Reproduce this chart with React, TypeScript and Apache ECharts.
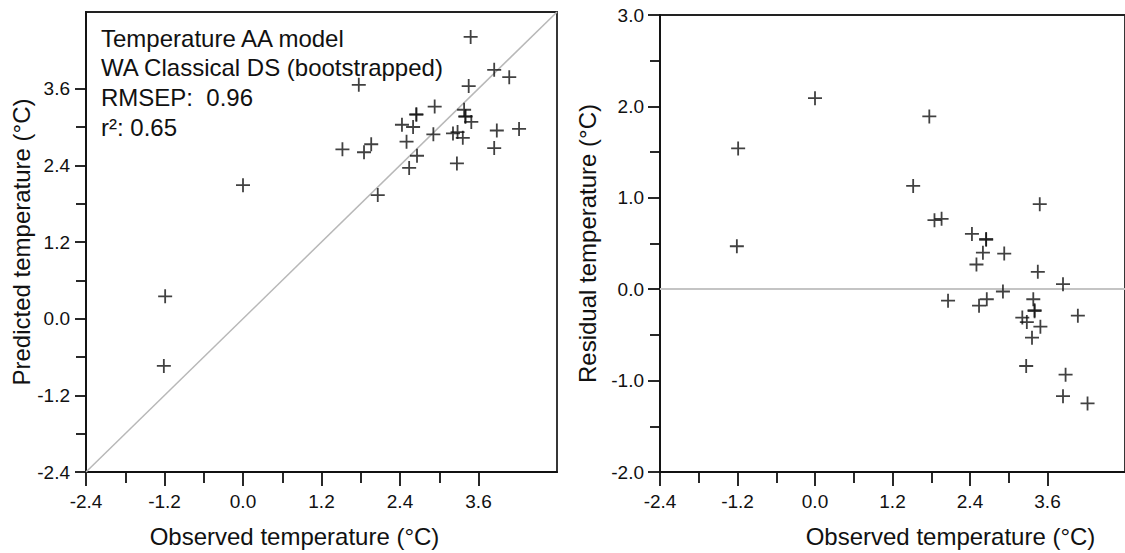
import React, { useEffect, useRef } from "react";
import * as echarts from "echarts";

// Observed temperature (°C) for each sample
const observed = [
  -1.19, -1.21, 0.0, 1.77, 1.52, 1.85, 1.96, 3.48, 2.43, 2.65, 2.65, 2.6, 2.93, 2.5, 3.45, 3.84,
  2.91, 2.06, 2.66, 2.54, 3.38, 3.4, 3.4, 3.21, 3.28, 3.49, 4.07, 3.36, 3.27, 3.88, 3.84, 4.22,
];
// Predicted temperature (°C)
const predicted = [
  0.35, -0.74, 2.09, 3.66, 2.65, 2.605, 2.73, 4.41, 3.035, 3.2, 3.19, 3.0, 3.32, 2.77, 3.64, 3.895,
  2.885, 1.935, 2.55, 2.36, 3.27, 3.17, 3.16, 2.9, 2.92, 3.08, 3.78, 2.83, 2.43, 2.945, 2.67, 2.97,
];
// Residual temperature (°C)
const residual = [
  1.54, 0.47, 2.09, 1.89, 1.13, 0.755, 0.77, 0.93, 0.605, 0.55, 0.54, 0.4, 0.39, 0.27, 0.19, 0.055,
  -0.025, -0.125, -0.11, -0.18, -0.11, -0.23, -0.24, -0.31, -0.36, -0.41, -0.29, -0.53, -0.84, -0.935,
  -1.17, -1.25,
];

const tempExtent = [-2.4, 4.8];
const majorTicks = [-2.4, -1.2, 0.0, 1.2, 2.4, 3.6];
const minorTicks = [-1.8, -0.6, 0.6, 1.8, 3.0];
const residualExtent = [-2, 3];
const oneToOneLine = [
  [-2.4, -2.4],
  [4.8, 4.8],
];
const annotationLines = [
  "Temperature AA model",
  "WA Classical DS (bootstrapped)",
  "RMSEP:  0.96",
  "r²: 0.65",
];

const FONT = "'Liberation Sans', Arial, Helvetica, sans-serif";
const INK = "#111";
const PLUS = "path://M6.1,0h1.8v6.1h6.1v1.8h-6.1v6.1h-1.8v-6.1h-6.1v-1.8h6.1z";
const fmt = (v: number) => (Math.abs(v) < 1e-9 ? 0 : v).toFixed(1);

function majorX(gridIndex: number, namePadding: number[]) {
  return {
    type: "value",
    gridIndex,
    position: "bottom",
    min: tempExtent[0],
    max: tempExtent[1],
    interval: 1.2,
    name: "Observed temperature (°C)",
    nameLocation: "middle",
    nameGap: 52,
    nameTextStyle: { fontSize: 24, color: INK, fontFamily: FONT, padding: namePadding },
    axisLine: { show: true, onZero: false, lineStyle: { color: INK, width: 1.8 } },
    axisTick: { show: true, customValues: majorTicks, length: 14, lineStyle: { color: INK, width: 1.8 } },
    axisLabel: { customValues: majorTicks, formatter: fmt, fontSize: 19, color: INK, margin: 20, fontFamily: FONT },
    splitLine: { show: false },
  };
}
function minorX(gridIndex: number) {
  return {
    type: "value",
    gridIndex,
    position: "bottom",
    min: tempExtent[0],
    max: tempExtent[1],
    interval: 1.2,
    axisLine: { show: false, onZero: false },
    axisTick: { show: true, customValues: minorTicks, length: 11, lineStyle: { color: INK, width: 1.8 } },
    axisLabel: { show: false },
    splitLine: { show: false },
  };
}

export default function App() {
  const ref = useRef<HTMLDivElement>(null);
  useEffect(() => {
    if (!ref.current) return;
    const chart = echarts.init(ref.current, undefined, { renderer: "svg" });
    const plusStyle = { color: INK };
    chart.setOption({
      animation: false,
      backgroundColor: "#fff",
      textStyle: { fontFamily: FONT },
      grid: [
        { left: 86, top: 12, width: 471, height: 466, show: true, borderColor: "#222", borderWidth: 1.8 },
        { left: 660, top: 15, width: 471, height: 464, show: true, borderColor: "#222", borderWidth: 1.8 },
      ],
      xAxis: [majorX(0, [0, 54, 0, 0]), minorX(0), majorX(1, [0, 0, 0, 116]), minorX(1)],
      yAxis: [
        {
          type: "value",
          gridIndex: 0,
          position: "left",
          min: tempExtent[0],
          max: tempExtent[1],
          interval: 1.2,
          name: "Predicted temperature (°C)",
          nameLocation: "middle",
          nameGap: 52,
          nameTextStyle: { fontSize: 24, color: INK, fontFamily: FONT },
          axisLine: { show: true, onZero: false, lineStyle: { color: INK, width: 1.8 } },
          axisTick: { show: true, customValues: majorTicks, length: 11, lineStyle: { color: INK, width: 1.8 } },
          axisLabel: { customValues: majorTicks, formatter: fmt, fontSize: 19, color: INK, margin: 16, fontFamily: FONT },
          splitLine: { show: false },
        },
        {
          type: "value",
          gridIndex: 0,
          position: "left",
          min: tempExtent[0],
          max: tempExtent[1],
          interval: 1.2,
          axisLine: { show: false, onZero: false },
          axisTick: { show: true, customValues: minorTicks, length: 10, lineStyle: { color: INK, width: 1.8 } },
          axisLabel: { show: false },
          splitLine: { show: false },
        },
        {
          type: "value",
          gridIndex: 1,
          position: "left",
          min: residualExtent[0],
          max: residualExtent[1],
          interval: 1,
          name: "Residual temperature (°C)",
          nameLocation: "middle",
          nameGap: 61,
          nameTextStyle: { fontSize: 24, color: INK, fontFamily: FONT },
          axisLine: { show: true, onZero: false, lineStyle: { color: INK, width: 1.8 } },
          axisTick: { show: true, length: 12, lineStyle: { color: INK, width: 1.8 } },
          minorTick: { show: true, splitNumber: 2, length: 10, lineStyle: { color: INK, width: 1.8 } },
          axisLabel: { formatter: fmt, fontSize: 19, color: INK, margin: 16, fontFamily: FONT },
          splitLine: { show: false },
        },
      ],
      series: [
        {
          type: "line",
          xAxisIndex: 0,
          yAxisIndex: 0,
          data: oneToOneLine,
          symbol: "none",
          silent: true,
          lineStyle: { color: "#b8b8b8", width: 1.5 },
          z: 1,
        },
        {
          type: "scatter",
          xAxisIndex: 0,
          yAxisIndex: 0,
          symbol: PLUS,
          symbolSize: 14,
          itemStyle: plusStyle,
          data: observed.map((o, i) => [o, predicted[i]]),
          z: 3,
        },
        {
          type: "scatter",
          xAxisIndex: 2,
          yAxisIndex: 2,
          symbol: PLUS,
          symbolSize: 14,
          itemStyle: plusStyle,
          data: observed.map((o, i) => [o, residual[i]]),
          z: 3,
          markLine: {
            silent: true,
            symbol: "none",
            label: { show: false },
            lineStyle: { color: "#c4c4c4", width: 2, type: "solid" },
            data: [{ yAxis: 0 }],
            z: 1,
          },
        },
      ],
      graphic: annotationLines.map((line, i) => ({
        type: "text",
        left: 101,
        top: 26 + i * 29.8,
        style: { text: line, fontSize: 24, fill: INK, fontFamily: FONT },
      })),
    });
    return () => chart.dispose();
  }, []);
  return (
    <div
      ref={ref}
      style={{ position: "fixed", left: 0, top: 0, width: 1125, height: 553, background: "#fff" }}
    />
  );
}
